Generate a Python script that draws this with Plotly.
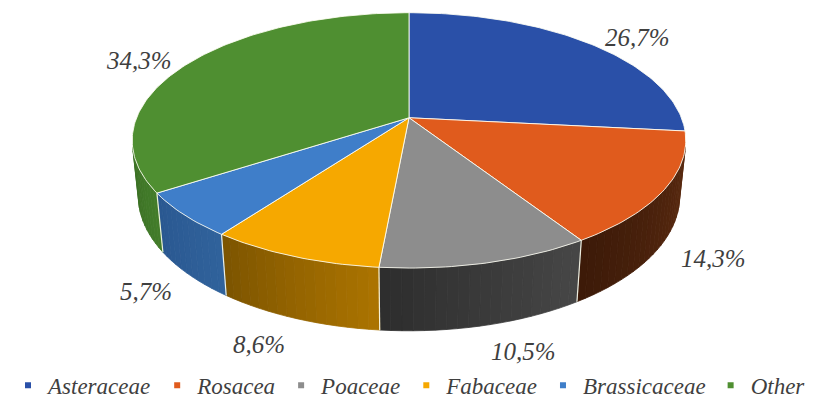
import numpy as np
import plotly.graph_objects as go

# ---------------- data ----------------
categories = ["Asteraceae", "Rosacea", "Poaceae", "Fabaceae", "Brassicaceae", "Other"]
shares = [26.7, 14.3, 10.5, 8.6, 5.7, 34.3]

# ---------------- style ----------------
top_colors = ["#2a50a8", "#e05b1d", "#8d8d8d", "#f6a800", "#3f7ec9", "#4f8f31"]
wall_light = ["#1f3d80", "#5a2a10", "#474747", "#ac7400", "#30629c", "#437d2a"]
wall_dark = ["#1a336b", "#3c1a08", "#2d2d2d", "#7c5400", "#2a5890", "#3b7024"]
label_xy = [(637, 38), (713, 264), (523, 359), (259, 351), (146, 297), (139, 62)]
TXT = "#3f3f3f"
FONT = "Liberation Serif"

WIN_W, WIN_H = 833, 407
PAGE_MARGIN = 8            # default body margin of the html page
FIG_W, FIG_H = WIN_W - PAGE_MARGIN, WIN_H - PAGE_MARGIN
CX, CY = 409, 120          # screen position of the pie centre
F, D = 1362.0, 5.0         # perspective focal length / camera distance
PHI = np.radians(27.6)     # elevation of the view
DEPTH = 0.238              # thickness of the pie (in radius units)


def proj(theta, r=1.0, h=0.0):
    s, c = np.sin(PHI), np.cos(PHI)
    u = r * np.sin(theta)
    v = r * np.cos(theta)
    z = D + v * c + h * s
    x = CX + F * u / z
    y_up = F * (v * s - h * c) / z
    return x, CY - y_up


def hexrgb(h):
    h = h.lstrip("#")
    return np.array([int(h[i:i + 2], 16) for i in (0, 2, 4)], float)


def mix(a, b, t):
    c = hexrgb(a) * (1 - t) + hexrgb(b) * t
    return "rgb(%d,%d,%d)" % tuple(np.round(c).astype(int))


total = sum(shares)
cum = np.concatenate([[0], np.cumsum(shares)]) / total * 2 * np.pi

fig = go.Figure()

# ---- outer walls (front visible part only) ----
lo = np.arccos(-1.0 / (D * np.cos(PHI)))
hi = 2 * np.pi - lo
step = np.radians(2.0)
for i in range(len(shares)):
    a, b = cum[i], cum[i + 1]
    va, vb = max(a, lo), min(b, hi)
    if vb <= va:
        continue
    n = max(1, int(np.ceil((vb - va) / step)))
    edges = np.linspace(va, vb, n + 1)
    for k in range(n):
        t0, t1 = edges[k], edges[k + 1]
        ts = np.linspace(t0, t1, 4)
        xt, yt = proj(ts, 1.0, 0.0)
        xb, yb = proj(ts[::-1], 1.0, DEPTH)
        col = mix(wall_light[i], wall_dark[i], ((t0 + t1) / 2 - va) / (vb - va))
        fig.add_trace(go.Scatter(
            x=np.concatenate([xt, xb, xt[:1]]), y=np.concatenate([yt, yb, yt[:1]]),
            mode="lines", fill="toself", fillcolor=col,
            line=dict(color=col, width=0.8), hoverinfo="skip", showlegend=False))

# white dividers on the walls
dx, dy = [], []
for t in cum[1:-1]:
    if lo <= t <= hi:
        x0, y0 = proj(t, 1.0, 0.0)
        x1, y1 = proj(t, 1.0, DEPTH)
        dx += [x0, x1, None]
        dy += [y0, y1, None]
fig.add_trace(go.Scatter(x=dx, y=dy, mode="lines",
                         line=dict(color="rgba(255,255,240,0.9)", width=1.2),
                         hoverinfo="skip", showlegend=False))

# ---- top faces ----
cx0, cy0 = proj(0.0, 0.0, 0.0)
for i in range(len(shares)):
    a, b = cum[i], cum[i + 1]
    ts = np.linspace(a, b, max(8, int((b - a) / np.radians(1))))
    xs, ys = proj(ts, 1.0, 0.0)
    fig.add_trace(go.Scatter(
        x=np.concatenate([[cx0], xs, [cx0]]), y=np.concatenate([[cy0], ys, [cy0]]),
        mode="lines", fill="toself", fillcolor=top_colors[i],
        line=dict(color="rgba(255,255,245,0.85)", width=1),
        hoverinfo="skip", showlegend=False))

# ---- legend entries ----
for i, name in enumerate(categories):
    fig.add_trace(go.Scatter(x=[None], y=[None], mode="markers", name=name,
                             marker=dict(symbol="square", size=6, color=top_colors[i])))

# ---- percentage labels ----
for i, v in enumerate(shares):
    fig.add_annotation(x=label_xy[i][0], y=label_xy[i][1],
                       text=("%.1f%%" % v).replace(".", ","),
                       showarrow=False, xanchor="center", yanchor="middle",
                       font=dict(family=FONT, size=25, color=TXT, style="italic"))

fig.update_layout(
    width=FIG_W, height=FIG_H,
    margin=dict(l=0, r=0, t=0, b=0),
    paper_bgcolor="white", plot_bgcolor="white",
    xaxis=dict(range=[PAGE_MARGIN, WIN_W], visible=False, fixedrange=True),
    yaxis=dict(range=[WIN_H, PAGE_MARGIN], visible=False, fixedrange=True),
    showlegend=True,
    legend=dict(orientation="h", x=0.473, xanchor="center",
                y=(WIN_H - 393) / FIG_H, yanchor="middle",
                font=dict(family=FONT, size=23, color=TXT, style="italic"),
                bgcolor="rgba(0,0,0,0)", itemwidth=30),
)

fig.write_html("out.html")
